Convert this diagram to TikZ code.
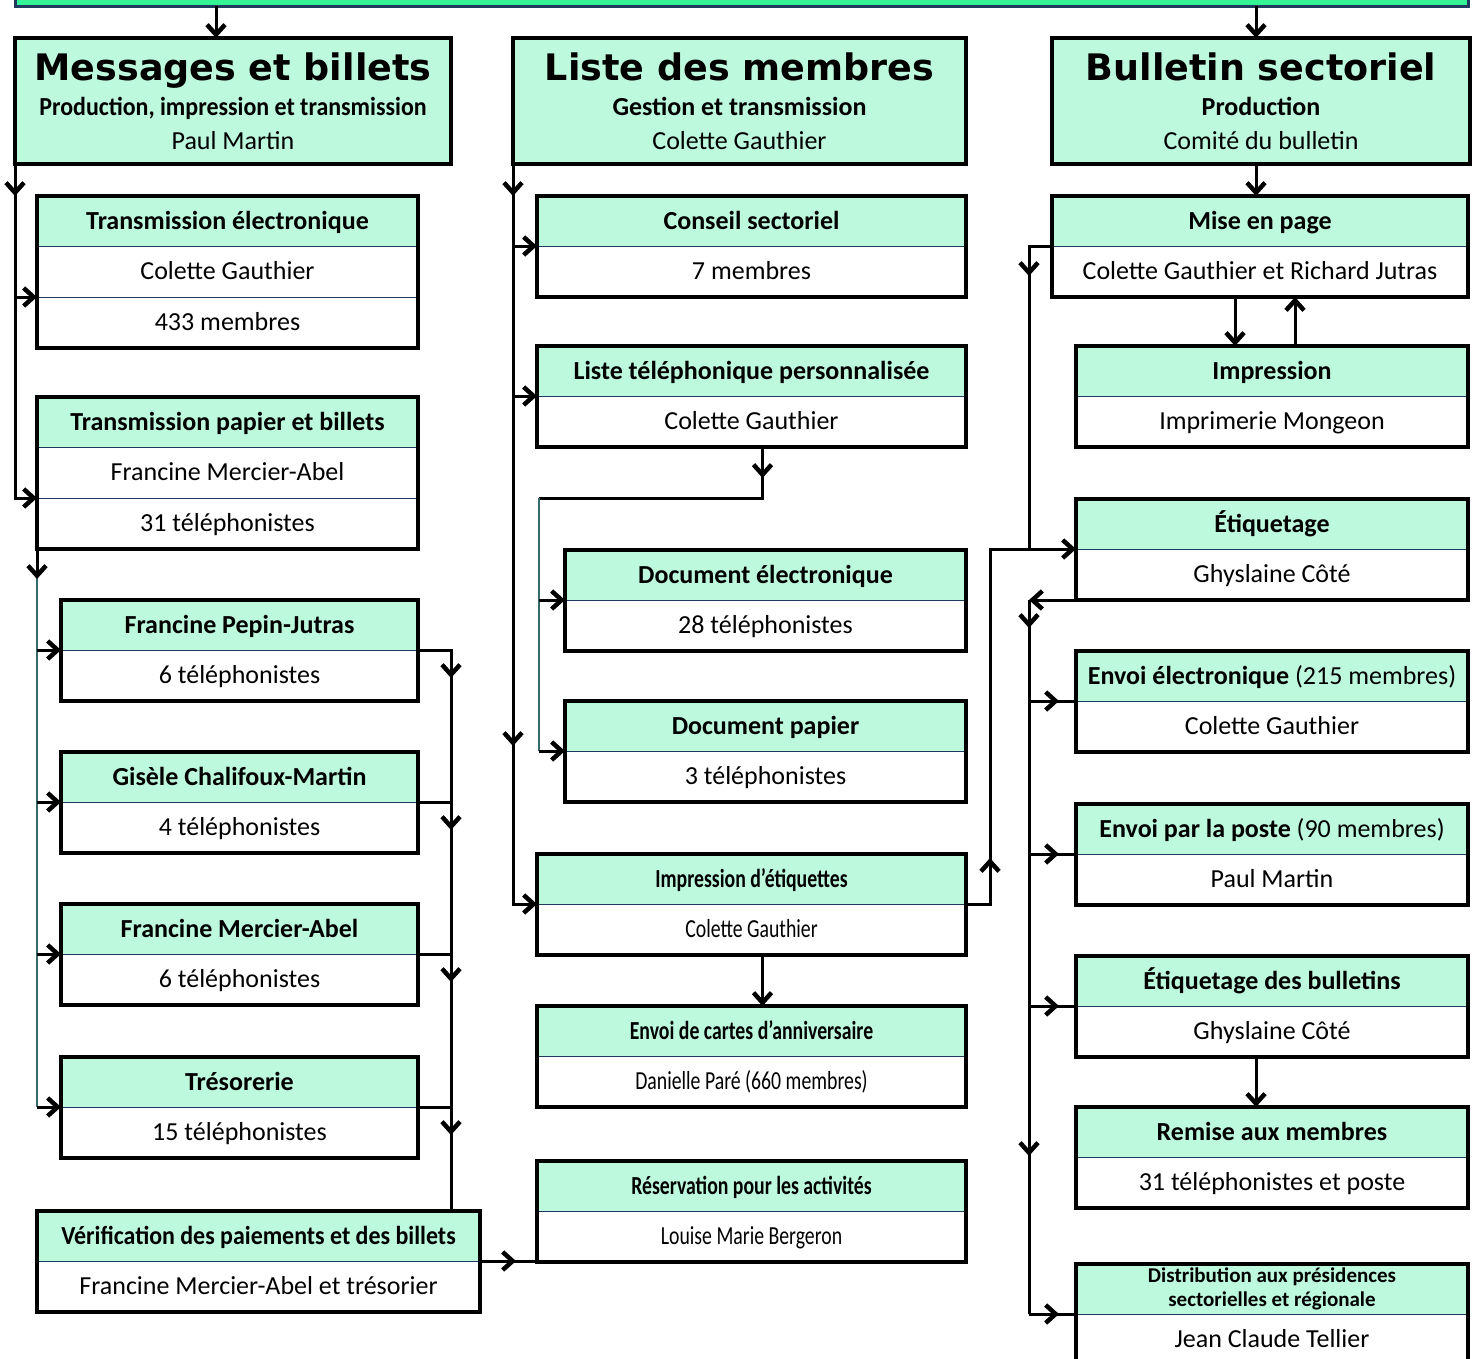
\documentclass[tikz,border=0pt]{standalone}
\usepackage{fontspec}
\setmainfont{Carlito}
\newfontfamily\titrefont{DejaVu Sans}
\newfontfamily\etroit{Carlito}[FakeStretch=0.76]
\newfontfamily\mietroit{Carlito}[FakeStretch=0.92]
\usetikzlibrary{arrows.meta,positioning}
\definecolor{vertpale}{HTML}{BDF9DC}
\definecolor{vertvif}{HTML}{33F395}
\definecolor{marine}{HTML}{1F3A5F}
\definecolor{sarcelle}{HTML}{336B6B}
\tikzset{
 tete/.style={fill=vertpale, font=\fontsize{26}{30}\selectfont\bfseries, inner sep=0pt, outer sep=0pt,
   minimum height=50pt, text height=17pt, text depth=1pt, anchor=north west},
 corps/.style={fill=white, font=\fontsize{26}{30}\selectfont, inner sep=0pt, outer sep=0pt,
   minimum height=51pt, text height=17pt, text depth=1pt, anchor=north},
 cadre/.style={draw=black, line width=3.5pt},
 filet/.style={draw=marine, line width=1pt},
 grand/.style={fill=vertpale, draw=black, line width=3.5pt, inner sep=0pt, outer sep=0pt,
   minimum height=126pt, anchor=north west},
 bandeau/.style={fill=vertvif, draw=marine, line width=3pt, inner sep=0pt, outer sep=0pt},
 titre/.style={font=\titrefont\bfseries\fontsize{36.5}{40}\selectfont, anchor=base},
 sous/.style={font=\bfseries\fontsize{26}{30}\selectfont, anchor=base},
 nom/.style={font=\fontsize{26}{30}\selectfont, anchor=base},
 trait/.style={draw=black, line width=3pt},
 rail/.style={draw=sarcelle, line width=2pt},
 fleche/.style={trait, -{Straight Barb[length=10pt,width=18pt,line width=4.5pt]}},
 }
\newcommand{\boite}[6]{%
 \node[tete, minimum width=#4pt] (#1) at (#2,#3) {#5};
 \node[corps, minimum width=#4pt] (#1b) at (#1.south) {#6};
 \draw[filet] (#1.south west) -- (#1.south east);
 \draw[cadre] (#1.north west) rectangle (#1b.south east);
}

\begin{document}
\begin{tikzpicture}[x=1pt,y=-1pt]
    \useasboundingbox (0,0) rectangle (1478,1358);
    \node[bandeau, minimum width=1453pt, minimum height=40pt, anchor=south west] (bar) at (15,6) {};

    % en-tetes des colonnes
    \node[grand, minimum width=436pt] (msg) at (15,38) {};
    \node[titre] at ([yshift=-42pt]msg.north) {Messages et billets};
    \node[sous] at ([yshift=-77pt]msg.north) {\mietroit Production, impression et transmission};
    \node[nom] at ([yshift=-111pt]msg.north) {Paul Martin};
    \node[grand, minimum width=453pt] (lst) at (513,38) {};
    \node[titre] at ([yshift=-42pt]lst.north) {Liste des membres};
    \node[sous] at ([yshift=-77pt]lst.north) {Gestion et transmission};
    \node[nom] at ([yshift=-111pt]lst.north) {Colette Gauthier};
    \node[grand, minimum width=418pt] (bul) at (1052,38) {};
    \node[titre] at ([yshift=-42pt]bul.north) {Bulletin sectoriel};
    \node[sous] at ([yshift=-77pt]bul.north) {Production};
    \node[nom] at ([yshift=-111pt]bul.north) {Comité du bulletin};

    % colonne 1
    \node[tete, minimum width=381pt] (tel) at (37,196) {Transmission électronique};
    \node[corps, minimum width=381pt] (telb) at (tel.south) {Colette Gauthier};
    \node[corps, minimum width=381pt] (telc) at (telb.south) {433 membres};
    \draw[filet] (tel.south west) -- (tel.south east) (telb.south west) -- (telb.south east);
    \draw[cadre] (tel.north west) rectangle (telc.south east);
    \node[tete, minimum width=381pt] (tpap) at (37,397) {Transmission papier et billets};
    \node[corps, minimum width=381pt] (tpapb) at (tpap.south) {Francine Mercier-Abel};
    \node[corps, minimum width=381pt] (tpapc) at (tpapb.south) {31 téléphonistes};
    \draw[filet] (tpap.south west) -- (tpap.south east) (tpapb.south west) -- (tpapb.south east);
    \draw[cadre] (tpap.north west) rectangle (tpapc.south east);
    \boite{fpj}{61}{600}{357}{Francine Pepin-Jutras}{6 téléphonistes}
    \boite{gcm}{61}{752}{357}{Gisèle Chalifoux-Martin}{4 téléphonistes}
    \boite{fma}{61}{904}{357}{Francine Mercier-Abel}{6 téléphonistes}
    \boite{tres}{61}{1057}{357}{Trésorerie}{15 téléphonistes}
    \boite{verif}{37}{1211}{443}{\mietroit Vérification des paiements et des billets}{Francine Mercier-Abel et trésorier}

    % colonne 2
    \boite{cons}{537}{196}{429}{Conseil sectoriel}{7 membres}
    \boite{ltel}{537}{346}{429}{Liste téléphonique personnalisée}{Colette Gauthier}
    \boite{docel}{565}{550}{401}{Document électronique}{28 téléphonistes}
    \boite{docpap}{565}{701}{401}{Document papier}{3 téléphonistes}
    \boite{impet}{537}{854}{429}{\etroit Impression d’étiquettes}{\etroit Colette Gauthier}
    \boite{cartes}{537}{1006}{429}{\etroit Envoi de cartes d’anniversaire}{\etroit Danielle Paré (660 membres)}
    \boite{resa}{537}{1161}{429}{\etroit Réservation pour les activités}{\etroit Louise Marie Bergeron}

    % colonne 3
    \boite{mise}{1052}{196}{416}{Mise en page}{Colette Gauthier et Richard Jutras}
    \boite{impr}{1076}{346}{392}{Impression}{Imprimerie Mongeon}
    \boite{etiq}{1076}{499}{392}{Étiquetage}{Ghyslaine Côté}
    \boite{envel}{1076}{651}{392}{Envoi électronique {\mdseries (215 membres)}}{Colette Gauthier}
    \boite{envpo}{1076}{804}{392}{Envoi par la poste {\mdseries (90 membres)}}{Paul Martin}
    \boite{ebul}{1076}{956}{392}{Étiquetage des bulletins}{Ghyslaine Côté}
    \boite{remise}{1076}{1107}{392}{Remise aux membres}{31 téléphonistes et poste}
    \node[tete, minimum width=392pt, align=center, text height={}, text depth={},
      font=\fontsize{21}{24}\selectfont\bfseries] (dist) at (1076,1264) {Distribution aux présidences\\sectorielles et régionale};
    \node[corps, minimum width=392pt] (distb) at (dist.south) {Jean Claude Tellier};
    \draw[filet] (dist.south west) -- (dist.south east);
    \draw[cadre] (dist.north west) rectangle (distb.south east);

    % liaisons colonne 1
    \coordinate (p1) at ([xshift=-17pt]msg.north);
    \draw[fleche] (p1 |- bar.south) -- (p1);
    \draw[trait] (msg.south west) |- (tpapb.south west);
    \draw[fleche] (msg.south west) -- ++(0,32);
    \draw[fleche] (msg.south west |- telb.south) -- (telb.south west);
    \draw[fleche] (msg.south west |- tpapb.south) -- (tpapb.south west);
    \draw[rail] (tpapc.south west) -- (tpapc.south west |- tres.south);
    \draw[fleche] (tpapc.south west) -- ++(0,30);
    \draw[fleche] (tpapc.south west |- fpj.south) -- (fpj.south west);
    \draw[fleche] (tpapc.south west |- gcm.south) -- (gcm.south west);
    \draw[fleche] (tpapc.south west |- fma.south) -- (fma.south west);
    \draw[fleche] (tpapc.south west |- tres.south) -- (tres.south west);
    \coordinate (d1) at ([xshift=33pt]fpj.south east);
    \draw[trait] (d1) -- (d1 |- verif.north);
    \draw[fleche] (fpj.south east) -| ++(33,28);
    \draw[fleche] (gcm.south east) -| ++(33,28);
    \draw[fleche] (fma.south east) -| ++(33,28);
    \draw[fleche] (tres.south east) -| ++(33,28);
    \draw[trait] (verif.south east) -- (verif.south east -| resab.west);
    \draw[fleche] (verif.south east) -- ++(36,0);

    % liaisons colonne 2
    \draw[trait] (lst.south west) |- (impet.south west);
    \draw[fleche] (lst.south west) -- ++(0,32);
    \draw[fleche] ([yshift=-550pt]lst.south west) -- ++(0,32);
    \draw[fleche] (lst.south west |- cons.south) -- (cons.south west);
    \draw[fleche] (lst.south west |- ltel.south) -- (ltel.south west);
    \draw[fleche] (lst.south west |- impet.south) -- (impet.south west);
    \coordinate (c3) at ([xshift=11pt]ltelb.south);
    \coordinate (c4) at ([xshift=2pt,yshift=-51pt]ltelb.south west);
    \draw[trait] (c3) |- (c4);
    \draw[fleche] (c3) -- ++(0,31);
    \draw[rail] (c4) -- (c4 |- docpap.south);
    \draw[fleche] (c4 |- docel.south) -- (docel.south west);
    \draw[fleche] (c4 |- docpap.south) -- (docpap.south west);
    \coordinate (c5) at ([xshift=24pt]impet.south east);
    \draw[trait] (impet.south east) -- (c5) |- (etiq.south west);
    \draw[fleche] (c5) -- ++(0,-46);
    \draw[fleche] ([xshift=-40pt]etiq.south west) -- (etiq.south west);
    \draw[fleche] ([xshift=11pt]impetb.south) -- ([xshift=11pt]cartes.north);

    % liaisons colonne 3
    \coordinate (p2) at ([xshift=-5pt]bul.north);
    \draw[fleche] (p2 |- bar.south) -- (p2);
    \draw[fleche] (p2 |- bul.south) -- (p2 |- mise.north);
    \coordinate (c6) at ([xshift=-23pt]mise.south west);
    \draw[trait] (mise.south west) -- (c6) -- (c6 |- etiq.south);
    \draw[fleche] (c6) -- ++(0,30);
    \draw[fleche] ([xshift=-25pt]miseb.south) -- ([xshift=-37pt]impr.north);
    \draw[fleche] ([xshift=23pt]impr.north) -- ([xshift=35pt]miseb.south);
    \coordinate (c7) at ([xshift=-47pt]etiqb.south west);
    \draw[fleche] (etiqb.south west) -- (c7);
    \draw[trait] (c7) -- (c7 |- dist.south);
    \draw[fleche] (c7) -- ++(0,28);
    \draw[fleche] ([yshift=-522pt]c7) -- ++(0,34);
    \draw[trait] (c7 |- envel.south) -- (envel.south west);
    \draw[fleche] (c7 |- envel.south) -- ++(30,0);
    \draw[trait] (c7 |- envpo.south) -- (envpo.south west);
    \draw[fleche] (c7 |- envpo.south) -- ++(30,0);
    \draw[trait] (c7 |- ebul.south) -- (ebul.south west);
    \draw[fleche] (c7 |- ebul.south) -- ++(30,0);
    \draw[trait] (c7 |- dist.south) -- (dist.south west);
    \draw[fleche] (c7 |- dist.south) -- ++(30,0);
    \draw[fleche] ([xshift=-16pt]ebulb.south) -- ([xshift=-16pt]remise.north);
\end{tikzpicture}
\end{document}
